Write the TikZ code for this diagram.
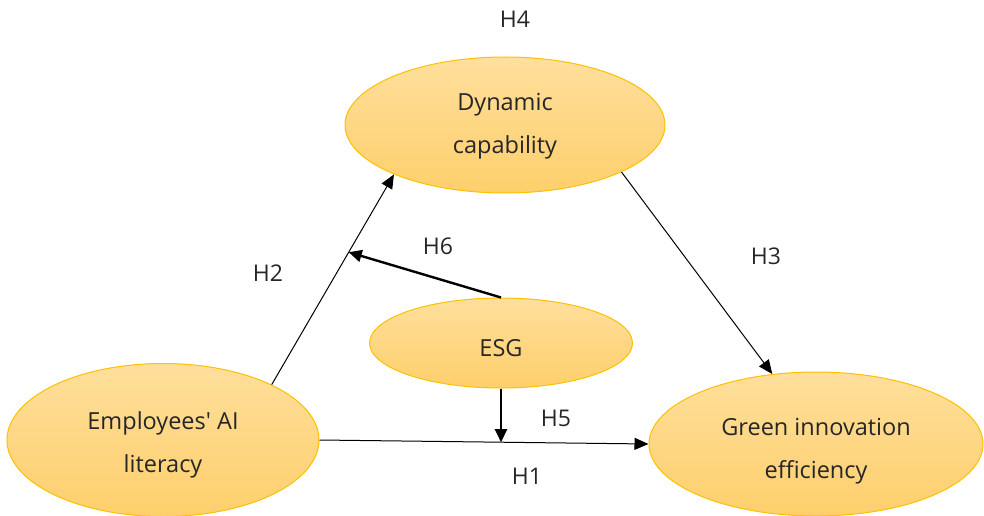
\documentclass[tikz,border=0pt]{standalone}
\usepackage{fontspec}
\setmainfont{Open Sans}
\usetikzlibrary{shapes.geometric,arrows.meta,calc}
\definecolor{ellborder}{RGB}{255,192,0}
\definecolor{elltop}{RGB}{254,223,156}
\definecolor{ellbot}{RGB}{254,207,108}
\newcommand{\lowerby}[1]{\rule{0pt}{#1}}
\tikzset{
  construct/.style={ellipse, draw=ellborder, line width=1pt, top color=elltop, bottom color=ellbot,
    inner sep=0pt, align=center, font=\fontsize{23.5}{43}\selectfont, text=black!85},
  thinarrow/.style={line width=1pt, -{Triangle[length=14pt,width=12pt]}},
  thickarrow/.style={line width=2.4pt, -{Triangle[length=13pt,width=12pt]}},
  hlabel/.style={font=\fontsize{23}{24}\selectfont, text=black!85}
}
\begin{document}
\begin{tikzpicture}[x=1pt,y=1pt]
\useasboundingbox (0,0) rectangle (984,-516);
\node[construct, minimum width=320pt, minimum height=136pt] (dyn) at (505,-125) {\lowerby{20pt}Dynamic\\capability};
\node[construct, minimum width=263pt, minimum height=90pt] (esg) at (501,-343) {\lowerby{27pt}ESG};
\node[construct, minimum width=312pt, minimum height=153pt] (emp) at (163,-440) {\lowerby{28pt}Employees\textquotesingle{} AI\\literacy};
\node[construct, minimum width=334pt, minimum height=144pt] (gie) at (816,-444) {\lowerby{32pt}Green innovation\\efficiency};

\coordinate (h2s) at (emp.27);
\coordinate (h2e) at (dyn.204.7);
\draw[thinarrow] (h2s) -- (h2e);
\draw[thinarrow] (dyn.-22.8) -- (gie.122);
\draw[thinarrow] (emp.east) -- (gie.west);
\coordinate (h6e) at ($(h2s)!0.63!(h2e)$);
\draw[thickarrow] (esg.north) -- (h6e);
\coordinate (h5e) at ($(emp.east)!0.553!(gie.west)$);
\draw[thickarrow] (esg.south) -- (esg.south |- h5e);

\node[hlabel] (lh4) at (515,-19) {H4};
\node[hlabel] (lh2) at (268,-273) {H2};
\node[hlabel] (lh6) at (438,-246) {H6};
\node[hlabel] (lh3) at (766,-256) {H3};
\node[hlabel] (lh5) at (556,-418) {H5};
\node[hlabel] (lh1) at (527,-476) {H1};
\end{tikzpicture}
\end{document}
